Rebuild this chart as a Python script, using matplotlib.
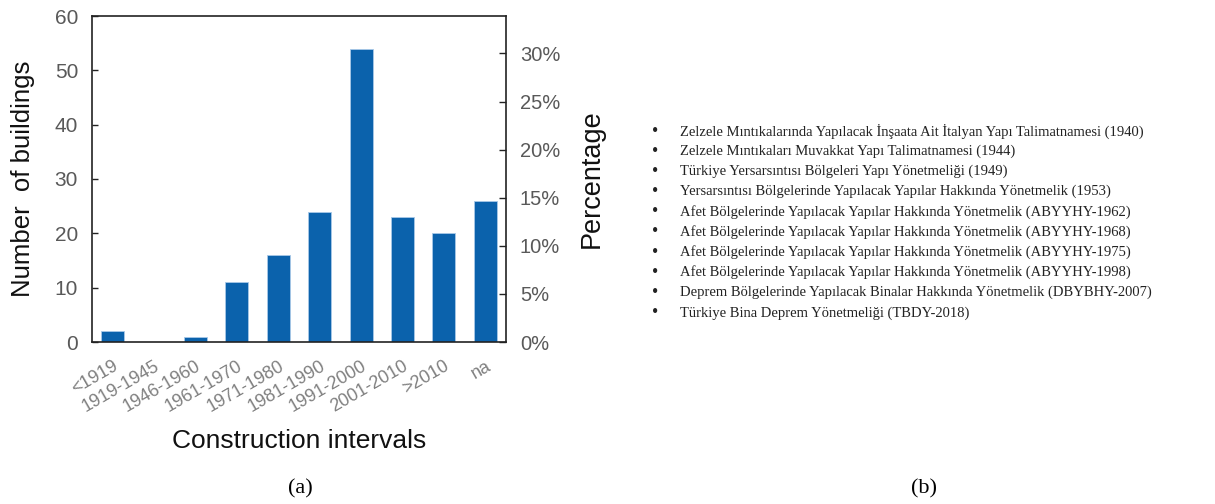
import matplotlib
matplotlib.use("Agg")
import matplotlib.pyplot as plt
from matplotlib.ticker import FuncFormatter

categories = ["<1919", "1919-1945", "1946-1960", "1961-1970", "1971-1980",
              "1981-1990", "1991-2000", "2001-2010", ">2010", "na"]
counts = [2, 0, 1, 11, 16, 24, 54, 23, 20, 26]
left_ticks = [0, 10, 20, 30, 40, 50, 60]
pct_ticks = [0, 5, 10, 15, 20, 25, 30]
regulations = [
    "Zelzele Mıntıkalarında Yapılacak İnşaata Ait İtalyan Yapı Talimatnamesi (1940)",
    "Zelzele Mıntıkaları Muvakkat Yapı Talimatnamesi (1944)",
    "Türkiye Yersarsıntısı Bölgeleri Yapı Yönetmeliği (1949)",
    "Yersarsıntısı Bölgelerinde Yapılacak Yapılar Hakkında Yönetmelik (1953)",
    "Afet Bölgelerinde Yapılacak Yapılar Hakkında Yönetmelik (ABYYHY-1962)",
    "Afet Bölgelerinde Yapılacak Yapılar Hakkında Yönetmelik (ABYYHY-1968)",
    "Afet Bölgelerinde Yapılacak Yapılar Hakkında Yönetmelik (ABYYHY-1975)",
    "Afet Bölgelerinde Yapılacak Yapılar Hakkında Yönetmelik (ABYYHY-1998)",
    "Deprem Bölgelerinde Yapılacak Binalar Hakkında Yönetmelik (DBYBHY-2007)",
    "Türkiye Bina Deprem Yönetmeliği (TBDY-2018)",
]

W, H = 1215, 504
fig = plt.figure(figsize=(W / 100, H / 100), dpi=100)
plt.rcParams['font.family'] = ['Liberation Sans', 'DejaVu Sans']

ax = fig.add_axes([92 / W, 1 - 342 / H, (506 - 92) / W, (342 - 16) / H])
x = list(range(len(categories)))
ax.bar(x, counts, width=0.56, color="#0B62AC", edgecolor="#A9C9E8", linewidth=0.6)
ax.set_xlim(-0.5, len(categories) - 0.5)
ax.set_ylim(0, 60)
ax.set_yticks(left_ticks)
ax.set_xticks(x)
ax.set_xticklabels(categories, rotation=30, ha="right", rotation_mode="anchor",
                   color="#808080", fontsize=13)
ax.tick_params(axis="y", direction="in", length=4, width=1, color="#222222",
               labelsize=15, labelcolor="#595959", pad=10)
ax.tick_params(axis="x", length=0, pad=11)
for s in ax.spines.values():
    s.set_color("#222222")
    s.set_linewidth(1.2)
ax.set_ylabel("Number  of buildings", fontsize=18.5, color="#111111", labelpad=14)
ax.set_xlabel("Construction intervals", fontsize=19, color="#111111", labelpad=10)

total = sum(counts)
ax2 = ax.twinx()
ax2.set_ylim(0, 60 / total * 100)
ax2.set_yticks(pct_ticks)
ax2.yaxis.set_major_formatter(FuncFormatter(lambda v, p: f"{v:.0f}%"))
ax2.tick_params(axis="y", direction="in", length=5, width=1, color="#222222",
                labelsize=14.5, labelcolor="#595959", pad=10)
ax2.set_ylabel("Percentage", fontsize=19.5, color="#111111", labelpad=13)
for s in ax2.spines.values():
    s.set_visible(False)

# right panel list
y0, dy = 131, 20.2
for i, t in enumerate(regulations):
    yy = 1 - (y0 + i * dy) / H
    fig.text(655 / W, yy, "•", fontsize=13, family="Liberation Serif",
             va="center", ha="center", color="#222222")
    fig.text(680 / W, yy, t, fontsize=10.5, family="Liberation Serif",
             va="center", ha="left", color="#222222")

fig.text(300 / W, 1 - 489 / H, "(a)", fontsize=16, family="Liberation Serif",
         ha="center", va="center")
fig.text(924 / W, 1 - 489 / H, "(b)", fontsize=16, family="Liberation Serif",
         ha="center", va="center")

fig.savefig("out.png", dpi=100)
